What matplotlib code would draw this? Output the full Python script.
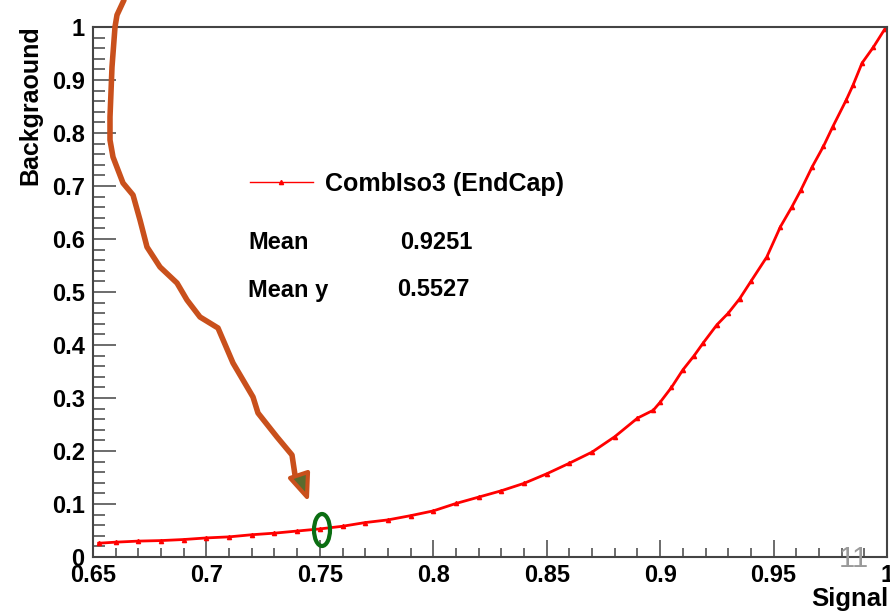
import numpy as np
import matplotlib
matplotlib.use("Agg")
import matplotlib.pyplot as plt
from matplotlib.lines import Line2D
from matplotlib.patches import Polygon, Ellipse
from matplotlib.transforms import Affine2D
from matplotlib.ticker import MultipleLocator

# courbe ROC (efficacite signal / background)
signal = [0.6525, 0.66, 0.67, 0.68, 0.69, 0.70, 0.71, 0.72, 0.73, 0.74,
          0.75, 0.76, 0.77, 0.78, 0.79, 0.80, 0.81, 0.82, 0.83, 0.84,
          0.85, 0.86, 0.87, 0.88, 0.89, 0.897, 0.90, 0.905, 0.91, 0.915,
          0.919, 0.925, 0.93, 0.935, 0.94, 0.947, 0.953, 0.958, 0.962, 0.967,
          0.972, 0.976, 0.982, 0.985, 0.989, 0.994, 0.999]
background = [0.026, 0.028, 0.030, 0.031, 0.033, 0.036, 0.038, 0.042, 0.045, 0.049,
              0.053, 0.058, 0.065, 0.070, 0.078, 0.087, 0.101, 0.113, 0.125, 0.139,
              0.157, 0.177, 0.198, 0.227, 0.262, 0.277, 0.292, 0.320, 0.353, 0.380,
              0.404, 0.438, 0.460, 0.487, 0.520, 0.566, 0.623, 0.660, 0.692, 0.736,
              0.775, 0.811, 0.862, 0.890, 0.932, 0.962, 0.996]

legend_label = "CombIso3 (EndCap)"
stats_names = ["Mean", "Mean y"]
stats_values = ["0.9251", "0.5527"]

W, H = 890, 611
plt.rcParams["font.family"] = ["Liberation Sans", "DejaVu Sans"]
fig = plt.figure(figsize=(W / 100, H / 100), dpi=100)
ax = fig.add_axes([93 / W, 1 - 557 / H, (887 - 93) / W, (557 - 27) / H])

line, = ax.plot(signal, background, color="red", lw=2.0, marker="^", ms=3,
                mec="red", mfc="red", label=legend_label)

ax.set_xlim(0.65, 1.0)
ax.set_ylim(0, 1.0)
ax.xaxis.set_major_locator(MultipleLocator(0.05))
ax.xaxis.set_minor_locator(MultipleLocator(0.01))
ax.yaxis.set_major_locator(MultipleLocator(0.1))
ax.yaxis.set_minor_locator(MultipleLocator(0.02))
ax.xaxis.set_major_formatter(plt.FuncFormatter(lambda v, p: f"{v:g}"))
ax.yaxis.set_major_formatter(plt.FuncFormatter(lambda v, p: f"{v:g}"))

gris = "#444444"
for s in ax.spines.values():
    s.set_color(gris)
    s.set_linewidth(1.5)
ax.tick_params(axis="both", which="both", direction="in", colors=gris, width=1.1,
               top=False, right=False)
ax.tick_params(axis="x", which="major", length=12.5, pad=5)
ax.tick_params(axis="x", which="minor", length=6.5)
ax.tick_params(axis="y", which="major", length=16.5, pad=6)
ax.tick_params(axis="y", which="minor", length=8.5)
for lab in ax.get_xticklabels() + ax.get_yticklabels():
    lab.set_fontsize(17)
    lab.set_fontweight("bold")
    lab.set_color("black")

fig.text(30 / W, 1 - 25 / H, "Backgraound", rotation=90, ha="center", va="top",
         fontsize=18, fontweight="bold")
fig.text(888 / W, 1 - 599 / H, "Signal", ha="right", va="center",
         fontsize=18.5, fontweight="bold")

leg = ax.legend(handles=[line], loc="center left", frameon=False,
                prop={"weight": "bold", "size": 18}, handlelength=2.5,
                handletextpad=0.5, borderpad=0, borderaxespad=0,
                bbox_to_anchor=(250 / W, 1 - 184 / H),
                bbox_transform=fig.transFigure)
leg.get_lines()[0].set_linewidth(1.0)

fig.text(248 / W, 1 - 243 / H, stats_names[0], ha="left", va="center",
         fontsize=17, fontweight="bold")
fig.text(248 / W, 1 - 290 / H, stats_names[1], ha="left", va="center",
         fontsize=17, fontweight="bold")
fig.text(400 / W, 1 - 243 / H, stats_values[0], ha="left", va="center",
         fontsize=17, fontweight="bold")
fig.text(397 / W, 1 - 290 / H, stats_values[1], ha="left", va="center",
         fontsize=17, fontweight="bold")

# annotations de la diapo (coordonnees pixels, y vers le bas)
pix = Affine2D().scale(1 / W, -1 / H).translate(0, 1) + fig.transFigure
orange = "#C9501C"
fleche_x = [124, 117, 115, 112, 110, 110, 113, 123, 133, 140, 147, 160, 177,
            187, 200, 218, 233, 253, 258, 277, 292, 295]
fleche_y = [0, 15, 27, 67, 117, 140, 157, 183, 195, 220, 247, 267, 283,
            300, 317, 328, 363, 397, 413, 437, 455, 475]
fig.add_artist(Line2D(fleche_x, fleche_y, color=orange, lw=4, transform=pix,
                      solid_joinstyle="round", solid_capstyle="round"))
fig.add_artist(Polygon([[290, 478], [308, 472], [307, 497]], closed=True,
                       facecolor="#5A6B2E", edgecolor=orange, lw=3,
                       joinstyle="round", transform=pix))
fig.add_artist(Ellipse((322, 530), 16, 32, fill=False, edgecolor="#0B6E12",
                       lw=3, transform=pix))
fig.text(854 / W, 1 - 559 / H, "11", ha="center", va="center", fontsize=21,
         color="#9A9A9A")

fig.savefig("out.png", dpi=100)
